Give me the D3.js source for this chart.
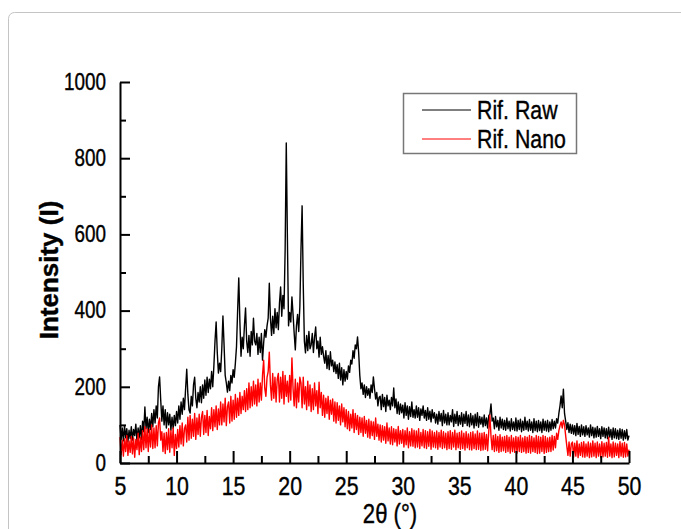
<!DOCTYPE html>
<html>
<head>
<meta charset="utf-8">
<script src="https://cdn.jsdelivr.net/npm/d3@7"></script>
<style>
  body { margin: 0; background: #fff; }
  svg { display: block; }
  text { font-family: "Liberation Sans", Arial, sans-serif; fill: #000; stroke: #000; stroke-width: 0.4px; }
</style>
</head>
<body>
<div id="chart"></div>
<script>
// diffraction scan, every 0.1 degree from 5 to 50
var startAngle = 5;
var stepAngle = 0.1;

var seriesNames = ["Rif. Raw", "Rif. Nano"];
var seriesColors = ["#000000", "#ff0000"];

var rawValues = [
  100, 62, 92, 58, 98, 66, 90, 55, 86, 64,          // 5
  95, 60, 88, 72, 102, 58, 92, 66, 98, 62,          // 6
  110, 82, 147, 90, 120, 80, 115, 88, 130, 95,      // 7
  140, 105, 150, 118, 200, 226, 165, 110, 150, 100,
  140, 92, 132, 100, 128, 86, 120, 90, 125, 98,
  135, 105, 150, 115, 160, 128, 170, 140, 195, 246, // 10
  180, 140, 131, 175, 150, 205, 225, 170, 145, 185,
  160, 200, 158, 205, 170, 218, 178, 225, 185, 220,
  195, 240, 200, 255, 320, 370, 290, 236, 262, 240,
  300, 386, 310, 230, 210, 186, 215, 190, 230, 210,
  245, 225, 262, 305, 400, 486, 370, 280, 330, 300, // 15
  360, 407, 320, 290, 335, 280, 345, 310, 380, 320,
  310, 340, 285, 330, 290, 340, 270, 315, 350, 330,
  360, 380, 472, 380, 335, 385, 340, 405, 355, 395,
  350, 420, 462, 385, 440, 405, 560, 840, 590, 360,
  395, 370, 436, 390, 340, 297, 360, 390, 345, 410, // 20
  560, 675, 470, 320, 289, 335, 295, 345, 300, 310,
  340, 290, 330, 357, 300, 320, 278, 330, 285, 305,
  280, 262, 295, 248, 282, 245, 292, 255, 270, 240,
  265, 235, 258, 222, 262, 218, 250, 205, 245, 215,
  240, 220, 255, 238, 270, 260, 295, 275, 310, 300, // 25
  331, 290, 230, 195, 210, 180, 205, 172, 200, 178,
  195, 170, 205, 185, 226, 195, 168, 185, 150, 172,
  175, 140, 180, 148, 172, 135, 178, 150, 165, 140,
  172, 150, 197, 145, 168, 130, 160, 128, 155, 132,
  152, 118, 158, 125, 150, 115, 148, 122, 160, 120, // 30
  140, 118, 150, 120, 145, 112, 142, 125, 150, 118,
  138, 112, 145, 115, 136, 108, 140, 118, 132, 105,
  128, 102, 135, 110, 130, 98, 138, 105, 128, 100,
  132, 100, 125, 108, 140, 96, 128, 104, 135, 98,
  125, 102, 132, 96, 128, 104, 135, 98, 126, 95,    // 35
  130, 100, 124, 92, 128, 98, 132, 94, 122, 102,
  120, 95, 126, 98, 118, 92, 124, 128, 155, 110,
  118, 90, 122, 95, 112, 86, 120, 92, 115, 88,
  112, 86, 118, 90, 110, 84, 116, 88, 108, 85,
  118, 84, 112, 88, 115, 82, 110, 86, 120, 88,      // 40
  110, 84, 114, 86, 108, 80, 116, 85, 110, 82,
  112, 85, 108, 80, 115, 86, 110, 84, 112, 82,
  108, 86, 114, 90, 110, 92, 116, 105, 130, 150,
  176, 145, 194, 130, 110, 88, 106, 80, 102, 78,
  100, 76, 98, 72, 104, 75, 96, 70, 100, 74,        // 45
  95, 70, 98, 74, 92, 68, 100, 72, 94, 66,
  92, 68, 96, 70, 90, 64, 95, 70, 92, 66,
  90, 64, 94, 68, 88, 62, 92, 66, 90, 64,
  86, 62, 90, 65, 88, 60, 85, 64, 88, 60,
  72
];

var nanoValues = [
  68, 22, 60, 18, 64, 30, 72, 20, 58, 28,           // 5
  70, 24, 66, 15, 62, 35, 78, 22, 68, 30,
  85, 35, 95, 40, 90, 30, 88, 42, 100, 38,
  92, 40, 98, 45, 105, 118, 60, 82, 30, 78,
  25, 80, 35, 90, 28, 85, 40, 92, 20, 75,
  38, 88, 42, 98, 50, 105, 45, 90, 100, 55,         // 10
  120, 60, 125, 65, 115, 70, 130, 62, 118, 75,
  128, 70, 120, 135, 75, 125, 80, 138, 72, 122,
  90, 145, 85, 140, 95, 150, 88, 142, 100, 160,
  100, 155, 108, 170, 98, 148, 160, 105, 175, 110,
  165, 115, 180, 120, 170, 125, 185, 130, 175, 140, // 15
  190, 135, 195, 140, 210, 145, 200, 150, 215, 155,
  205, 150, 220, 160, 210, 165, 230, 270, 195, 175,
  225, 240, 291, 205, 165, 235, 170, 225, 160, 220,
  235, 160, 225, 170, 240, 155, 230, 175, 215, 160,
  230, 165, 276, 195, 150, 220, 145, 210, 160, 225, // 20
  210, 145, 225, 155, 200, 140, 215, 150, 205, 135,
  195, 140, 210, 150, 190, 130, 212, 145, 185, 125,
  178, 120, 170, 130, 175, 115, 165, 128, 168, 110,
  160, 105, 158, 112, 150, 100, 155, 108, 145, 95,
  140, 90, 135, 85, 128, 92, 140, 80, 130, 88,      // 25
  125, 75, 120, 80, 118, 70, 122, 78, 112, 68,
  115, 65, 110, 72, 108, 62, 118, 70, 102, 60,
  100, 55, 98, 60, 95, 52, 105, 58, 92, 50,
  95, 48, 90, 55, 88, 45, 96, 50, 85, 52,
  88, 42, 85, 48, 92, 40, 82, 45, 90, 44,           // 30
  86, 40, 84, 42, 90, 38, 80, 45, 88, 40,
  85, 38, 82, 44, 88, 36, 84, 42, 80, 40,
  84, 36, 80, 42, 86, 38, 82, 40, 78, 35,
  82, 38, 85, 36, 80, 42, 86, 35, 78, 40,
  80, 36, 84, 38, 78, 34, 82, 40, 76, 35,           // 35
  80, 34, 82, 38, 76, 35, 84, 36, 78, 33,
  78, 34, 80, 36, 75, 32, 82, 126, 70, 35,
  72, 30, 75, 32, 70, 28, 74, 30, 68, 32,
  70, 28, 72, 30, 68, 26, 72, 30, 66, 28,
  70, 26, 68, 30, 72, 28, 66, 30, 70, 26,           // 40
  68, 28, 72, 26, 70, 30, 66, 28, 72, 25,
  70, 26, 68, 30, 72, 25, 70, 28, 66, 30,
  68, 30, 72, 34, 70, 40, 78, 62, 85, 98,
  108, 92, 112, 100, 72, 45, 20, 55, 18, 50,
  55, 15, 52, 18, 58, 14, 50, 20, 54, 16,           // 45
  56, 15, 50, 18, 55, 14, 52, 16, 58, 18,
  52, 14, 55, 18, 50, 15, 56, 16, 52, 18,
  54, 15, 68, 18, 50, 14, 55, 16, 52, 20,
  50, 14, 56, 18, 52, 15, 54, 16, 50, 18,
  35
];

var xTickValues = [5, 10, 15, 20, 25, 30, 35, 40, 45, 50];
var xMinorTicks = [7.5, 12.5, 17.5, 22.5, 27.5, 32.5, 37.5, 42.5, 47.5];
var yTickValues = [0, 200, 400, 600, 800, 1000];
var yMinorTicks = [100, 300, 500, 700, 900];

var squeeze = 0.82; // the original lettering is narrow

var svg = d3.select("#chart")
  .append("svg")
  .attr("width", 681)
  .attr("height", 529);

// card border
svg.append("rect")
  .attr("x", 8.5)
  .attr("y", 12.5)
  .attr("width", 720)
  .attr("height", 560)
  .attr("rx", 6)
  .attr("fill", "#fff")
  .attr("stroke", "#c4c4c4")
  .attr("stroke-width", 1);

var x = d3.scaleLinear().domain([5, 50]).range([120, 629]);
var y = d3.scaleLinear().domain([0, 1000]).range([463, 82]);

var toPoints = function(vals) {
  return vals.map(function(v, i) {
    return [startAngle + i * stepAngle, v];
  });
};

var line = d3.line()
  .x(function(d) { return x(d[0]); })
  .y(function(d) { return y(d[1]); });

var plot = svg.append("g");

[rawValues, nanoValues].forEach(function(vals, i) {
  plot.append("path")
    .datum(toPoints(vals))
    .attr("fill", "none")
    .attr("stroke", seriesColors[i])
    .attr("stroke-width", 1.4)
    .attr("stroke-linejoin", "round")
    .attr("d", line);
});

// axes, ticks point inwards
var squeezeText = function(sel) {
  sel.selectAll("text").each(function() {
    var t = d3.select(this);
    var tx = +t.attr("x") || 0;
    t.attr("x", tx / squeeze).attr("transform", "scale(" + squeeze + ",1)");
  });
};

var gx = svg.append("g")
  .attr("transform", "translate(0," + y(0) + ")")
  .call(d3.axisBottom(x).tickValues(xTickValues).tickSizeInner(-12).tickSizeOuter(0).tickPadding(14));
gx.selectAll("text").attr("font-size", 26).attr("dy", "0.71em");
gx.call(squeezeText);

svg.append("g")
  .attr("transform", "translate(0," + y(0) + ")")
  .call(d3.axisBottom(x).tickValues(xMinorTicks).tickSizeInner(-7).tickFormat(""))
  .call(function(g) { g.select(".domain").remove(); });

var gy = svg.append("g")
  .attr("transform", "translate(" + x(5) + ",0)")
  .call(d3.axisLeft(y).tickValues(yTickValues).tickFormat(d3.format("d"))
    .tickSizeInner(-10).tickSizeOuter(0).tickPadding(14));
gy.selectAll("text").attr("font-size", 23);
gy.call(squeezeText);

svg.append("g")
  .attr("transform", "translate(" + x(5) + ",0)")
  .call(d3.axisLeft(y).tickValues(yMinorTicks).tickSizeInner(-6).tickFormat(""))
  .call(function(g) { g.select(".domain").remove(); });

svg.selectAll(".domain").attr("stroke-width", 2);
svg.selectAll(".tick line").attr("stroke-width", 2);

// axis titles
svg.append("g")
  .attr("transform", "translate(390,523) scale(" + squeeze + ",1)")
  .append("text")
  .attr("text-anchor", "middle")
  .attr("font-size", 27)
  .attr("stroke-width", 0.7)
  .text("2\u03b8 (\u00b0)");

svg.append("text")
  .attr("transform", "translate(58,270) rotate(-90)")
  .attr("text-anchor", "middle")
  .attr("font-size", 26)
  .attr("font-weight", "bold")
  .text("Intensity (I)");

// legend
var legend = svg.append("g");
legend.append("rect")
  .attr("x", 403.5)
  .attr("y", 93.5)
  .attr("width", 173)
  .attr("height", 60)
  .attr("fill", "#fff")
  .attr("stroke", "#777")
  .attr("stroke-width", 1.5);

seriesNames.forEach(function(name, i) {
  var ly = 110 + i * 29;
  legend.append("line")
    .attr("x1", 422).attr("x2", 471)
    .attr("y1", ly).attr("y2", ly)
    .attr("stroke", seriesColors[i])
    .attr("stroke-width", 1);
  legend.append("g")
    .attr("transform", "translate(477," + (ly + 9) + ") scale(" + squeeze + ",1)")
    .append("text")
    .attr("font-size", 26)
    .text(name);
});
</script>
</body>
</html>
